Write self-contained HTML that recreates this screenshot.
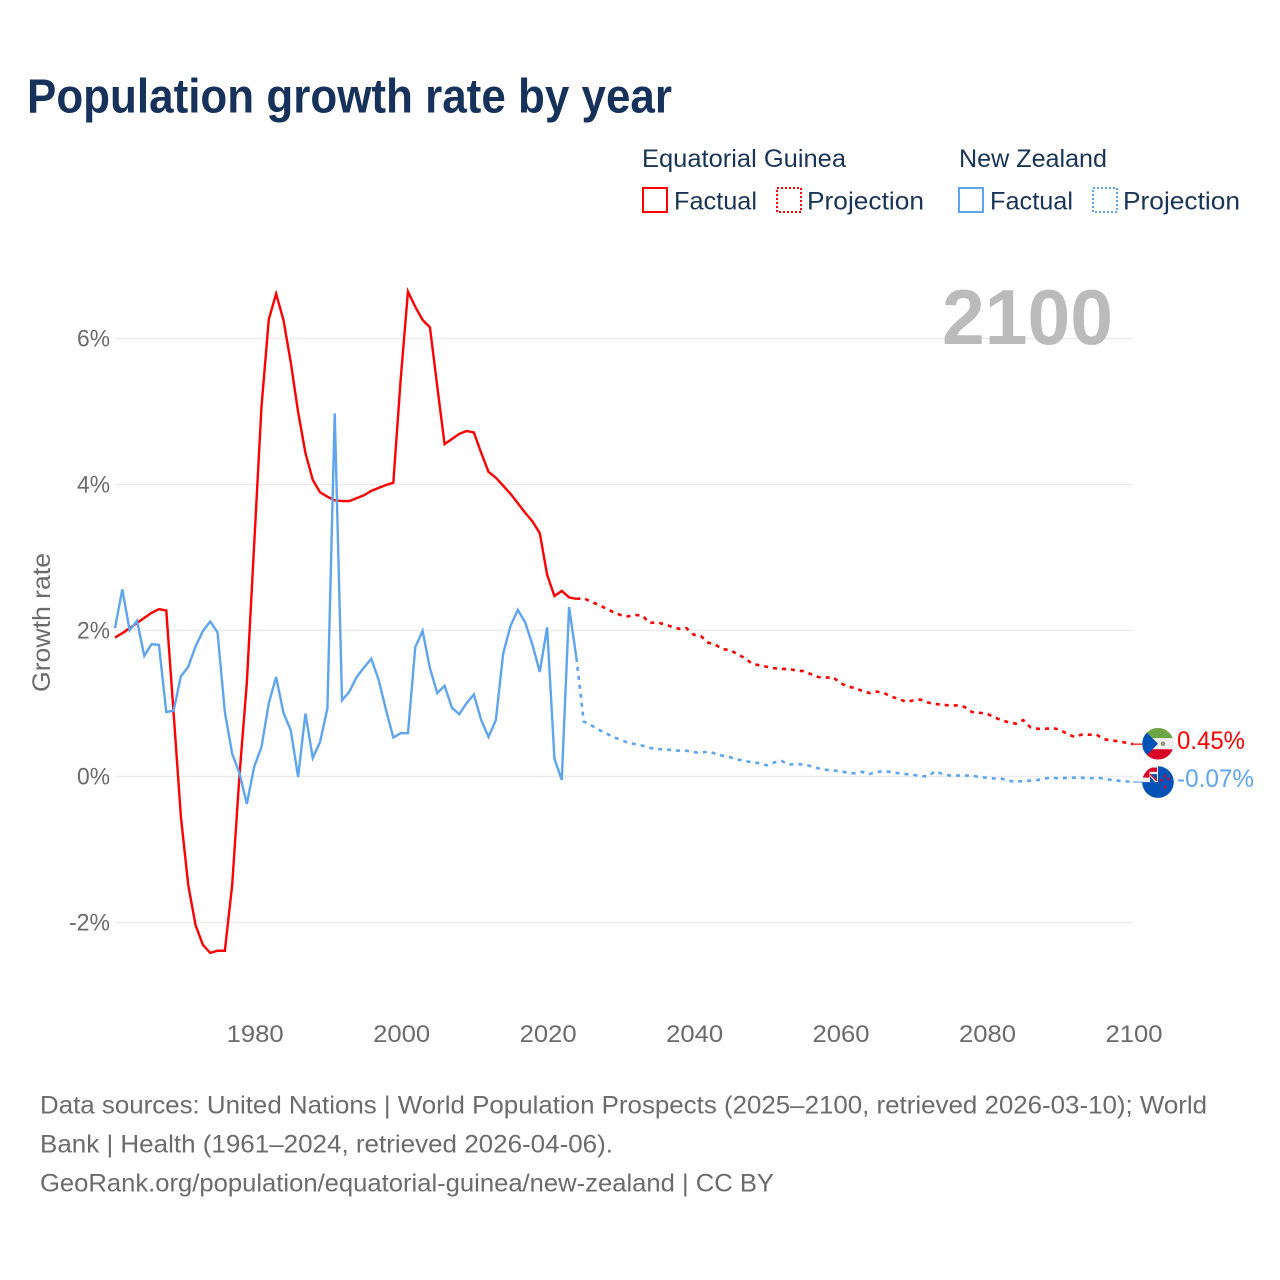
<!DOCTYPE html>
<html lang="en">
<head>
<meta charset="utf-8">
<title>Population growth rate by year</title>
<style>
html,body{margin:0;padding:0;background:#fff;width:1280px;height:1280px;overflow:hidden}
svg{display:block}
text{font-family:"Liberation Sans",sans-serif}
</style>
</head>
<body>
<svg id="chart" xmlns="http://www.w3.org/2000/svg" width="1280" height="1280" viewBox="0 0 1280 1280">
  <rect width="1280" height="1280" fill="#fff"/>
  <text x="27" y="112.5" font-size="48" font-weight="700" fill="#17325a" textLength="645" lengthAdjust="spacingAndGlyphs">Population growth rate by year</text>

  <g font-size="25" fill="#1a3456">
    <text x="642" y="167" textLength="204" lengthAdjust="spacingAndGlyphs">Equatorial Guinea</text>
    <text x="959" y="167" textLength="148" lengthAdjust="spacingAndGlyphs">New Zealand</text>
    <g>
      <rect x="643" y="188" width="24" height="24" fill="none" stroke="#ff0000" stroke-width="2"/>
      <text x="674" y="209.5" textLength="83" lengthAdjust="spacingAndGlyphs">Factual</text>
    </g>
    <g>
      <rect x="777" y="188" width="24" height="24" fill="none" stroke="#ff0000" stroke-width="2" stroke-dasharray="2 2" shape-rendering="crispEdges"/>
      <text x="807" y="209.5" textLength="117" lengthAdjust="spacingAndGlyphs">Projection</text>
    </g>
    <g>
      <rect x="959" y="188" width="24" height="24" fill="none" stroke="#5fa5ee" stroke-width="2"/>
      <text x="990" y="209.5" textLength="83" lengthAdjust="spacingAndGlyphs">Factual</text>
    </g>
    <g>
      <rect x="1093" y="188" width="24" height="24" fill="none" stroke="#5fa5ee" stroke-width="2" stroke-dasharray="2 2" shape-rendering="crispEdges"/>
      <text x="1123" y="209.5" textLength="117" lengthAdjust="spacingAndGlyphs">Projection</text>
    </g>
  </g>

  <text transform="translate(50 692) rotate(-90)" font-size="25" fill="#6b6b6b" textLength="139" lengthAdjust="spacingAndGlyphs">Growth rate</text>

  <g id="grid"></g>
  <text x="942" y="344" font-size="78" font-weight="700" fill="#bbbbbb" textLength="171" lengthAdjust="spacingAndGlyphs">2100</text>
  <g id="yticks" font-size="24" fill="#6b6b6b"></g>
  <g id="xticks" font-size="24" fill="#6b6b6b"></g>
  <g id="series"></g>

  <defs>
    <clipPath id="flagClip"><circle cx="0" cy="0" r="15.8"/></clipPath>
  </defs>

  <g id="flagEG" clip-path="url(#flagClip)">
    <rect x="-16" y="-16" width="32" height="10.5" fill="#6da544"/>
    <rect x="-16" y="-5.5" width="32" height="11" fill="#f0f0f0"/>
    <rect x="-16" y="5.5" width="32" height="10.5" fill="#d80027"/>
    <polygon points="0,0 -16,-16 -16,16" fill="#0052b4"/>
    <circle cx="5" cy="0" r="2.3" fill="#8a9a7a"/>
  </g>

  <g id="flagNZ" clip-path="url(#flagClip)">
    <rect x="-16" y="-16" width="32" height="32" fill="#0052b4"/>
    <rect x="-16" y="-16" width="16" height="16" fill="#f0f0f0"/>
    <rect x="-12.5" y="-14.5" width="11.5" height="4.2" fill="#d80027"/>
    <rect x="-16" y="-14.5" width="7.5" height="10" fill="#d80027"/>
    <polygon points="-7,-8 -1,-8 -1,-2" fill="#0052b4"/>
    <polygon points="-8,-6 -8,0 -3,0" fill="#0052b4"/>
    <line x1="-8" y1="-8" x2="-1" y2="-1" stroke="#d80027" stroke-width="1.2"/>
    <circle cx="7" cy="-6" r="1.3" fill="#d80027"/>
    <circle cx="3.5" cy="-2" r="1.3" fill="#d80027"/>
    <circle cx="10.5" cy="-3" r="1.3" fill="#d80027"/>
    <circle cx="7" cy="5" r="1.3" fill="#d80027"/>
  </g>

  <text id="labelEG" x="1177" font-size="25" fill="#ff0000" textLength="68" lengthAdjust="spacingAndGlyphs"></text>
  <text id="labelNZ" x="1177" font-size="25" fill="#5fa5ee" textLength="77" lengthAdjust="spacingAndGlyphs"></text>

  <g font-size="25" fill="#6b6b6b">
    <text x="40" y="1113.5" textLength="1167" lengthAdjust="spacingAndGlyphs">Data sources: United Nations | World Population Prospects (2025–2100, retrieved 2026-03-10); World</text>
    <text x="40" y="1152.5" textLength="573" lengthAdjust="spacingAndGlyphs">Bank | Health (1961–2024, retrieved 2026-04-06).</text>
    <text x="40" y="1191.5" textLength="734" lengthAdjust="spacingAndGlyphs">GeoRank.org/population/equatorial-guinea/new-zealand | CC BY</text>
  </g>
</svg>

<script>
var factualStartYear = 1961;
var projectionStartYear = 2025;

var yTickValues = [6, 4, 2, 0, -2];
var xTickYears = [1980, 2000, 2020, 2040, 2060, 2080, 2100];

var egFactual = [
  1.91,1.97,2.04,2.11,2.18,2.25,2.30,2.28,0.88,-0.55,
  -1.48,-2.03,-2.30,-2.41,-2.38,-2.38,-1.48,0.03,1.29,3.18,
  5.07,6.27,6.62,6.26,5.68,5.00,4.44,4.07,3.90,3.84,
  3.79,3.78,3.78,3.82,3.86,3.92,3.96,4.00,4.03,5.44,
  6.65,6.44,6.26,6.16,5.35,4.56,4.63,4.70,4.74,4.72,
  4.44,4.18,4.10,3.99,3.88,3.75,3.62,3.50,3.34,2.77,
  2.48,2.55,2.46,2.44
];

var egProjection = [
  2.45,2.40,2.36,2.31,2.26,2.22,2.20,2.22,2.21,2.11,2.12,2.09,2.06,2.03,2.04,1.95,
  1.93,1.84,1.81,1.75,1.74,1.68,1.63,1.55,1.53,1.51,
  1.49,1.48,1.48,1.46,1.45,1.41,1.37,1.36,1.37,1.29,
  1.24,1.22,1.18,1.15,1.17,1.15,1.10,1.07,1.03,1.05,
  1.06,1.02,1.00,0.99,0.98,0.98,0.96,0.89,0.88,0.87,
  0.82,0.78,0.75,0.73,0.78,0.68,0.66,0.66,0.67,0.65,
  0.59,0.55,0.58,0.58,0.58,0.52,0.50,0.49,0.47,0.45
];

var nzFactual = [
  2.04,2.57,2.01,2.14,1.66,1.82,1.81,0.89,0.91,1.38,
  1.51,1.79,2.00,2.13,1.98,0.89,0.32,0.05,-0.37,0.14,
  0.41,1.01,1.37,0.88,0.64,0.00,0.87,0.26,0.48,0.94,
  4.98,1.05,1.17,1.37,1.50,1.62,1.33,0.92,0.54,0.60,
  0.60,1.78,2.00,1.49,1.15,1.25,0.95,0.86,1.01,1.13,
  0.78,0.55,0.78,1.69,2.07,2.29,2.12,1.81,1.44,2.05,
  0.25,-0.04,2.33,1.63
];

var nzProjection = [
  0.76,0.71,0.65,0.60,0.55,0.51,0.47,0.45,0.43,0.40,0.38,0.38,0.37,0.36,0.36,0.34,
  0.33,0.35,0.32,0.29,0.27,0.24,0.22,0.20,0.19,0.16,
  0.20,0.22,0.17,0.18,0.17,0.15,0.12,0.10,0.09,0.08,
  0.06,0.05,0.07,0.04,0.07,0.08,0.07,0.05,0.04,0.03,
  0.01,0.01,0.08,0.04,0.02,0.02,0.02,0.02,0.00,-0.01,
  -0.02,-0.02,-0.05,-0.07,-0.05,-0.05,-0.04,-0.02,-0.01,-0.02,
  -0.01,-0.01,-0.01,-0.02,-0.01,-0.02,-0.04,-0.05,-0.06,-0.07
];

var SVGNS = 'http://www.w3.org/2000/svg';
var RED = '#ff0000';
var BLUE = '#5fa5ee';

function xScale(year) { return 115 + (year - 1961) * 7.324; }
function yScale(value) { return 777 - value * 73; }

function pointsFor(values, startYear) {
  return values.map(function (v, i) {
    return xScale(startYear + i).toFixed(2) + ',' + yScale(v).toFixed(2);
  }).join(' ');
}

var gridGroup = document.getElementById('grid');
var yTickGroup = document.getElementById('yticks');
yTickValues.forEach(function (v) {
  var line = document.createElementNS(SVGNS, 'line');
  
  
  line.setAttribute('x1', 115);
  line.setAttribute('x2', 1133);
  line.setAttribute('y1', yScale(v) - 0.5);
  line.setAttribute('y2', yScale(v) - 0.5);
  line.setAttribute('stroke', '#ebebeb');
  line.setAttribute('stroke-width', '1.4');
  gridGroup.appendChild(line);

  var label = document.createElementNS(SVGNS, 'text');
  
  
  label.setAttribute('x', 110);
  label.setAttribute('y', yScale(v) + 7.5);
  label.setAttribute('text-anchor', 'end');
  label.setAttribute('textLength', v < 0 ? 41 : 33);
  label.setAttribute('lengthAdjust', 'spacingAndGlyphs');
  label.textContent = v + '%';
  yTickGroup.appendChild(label);
});

var xTickGroup = document.getElementById('xticks');
xTickYears.forEach(function (year) {
  var label = document.createElementNS(SVGNS, 'text');
  
  
  label.setAttribute('x', xScale(year) + 1);
  label.setAttribute('y', 1042);
  label.setAttribute('text-anchor', 'middle');
  label.setAttribute('textLength', 57);
  label.setAttribute('lengthAdjust', 'spacingAndGlyphs');
  label.textContent = String(year);
  xTickGroup.appendChild(label);
});

var seriesGroup = document.getElementById('series');

function drawLine(name, values, startYear, color, dash) {
  var line = document.createElementNS(SVGNS, 'polyline');
  
  
  line.setAttribute('points', pointsFor(values, startYear));
  line.setAttribute('fill', 'none');
  line.setAttribute('stroke', color);
  line.setAttribute('stroke-width', dash ? '2.6' : '2.4');
  line.setAttribute('stroke-linejoin', 'miter');
  if (dash) { line.setAttribute('stroke-dasharray', dash); }
  seriesGroup.appendChild(line);
}

function drawConnector(name, value, color) {
  var line = document.createElementNS(SVGNS, 'line');
  
  
  line.setAttribute('x1', xScale(2100));
  line.setAttribute('x2', 1144);
  line.setAttribute('y1', yScale(value));
  line.setAttribute('y2', yScale(value));
  line.setAttribute('stroke', color);
  line.setAttribute('stroke-width', '1.2');
  seriesGroup.appendChild(line);
}

drawLine('equatorial-guinea-factual-line', egFactual, factualStartYear, RED, null);
drawLine('equatorial-guinea-projection-line',
  [egFactual[egFactual.length - 1]].concat(egProjection), projectionStartYear - 1, RED, '4 5');
drawLine('new-zealand-factual-line', nzFactual, factualStartYear, BLUE, null);
drawLine('new-zealand-projection-line',
  [nzFactual[nzFactual.length - 1]].concat(nzProjection), projectionStartYear - 1, BLUE, '4 5');

var egLast = egProjection[egProjection.length - 1];
var nzLast = nzProjection[nzProjection.length - 1];
drawConnector('equatorial-guinea-end-connector', egLast, RED);
drawConnector('new-zealand-end-connector', nzLast, BLUE);

document.getElementById('flagEG').setAttribute('transform', 'translate(1158 ' + (yScale(egLast) - 0.4) + ')');
document.getElementById('flagNZ').setAttribute('transform', 'translate(1158 ' + yScale(nzLast) + ')');

var labelEG = document.getElementById('labelEG');
labelEG.setAttribute('y', yScale(egLast) + 5);
labelEG.textContent = egLast.toFixed(2) + '%';
var labelNZ = document.getElementById('labelNZ');
labelNZ.setAttribute('y', yScale(nzLast) + 5);
labelNZ.textContent = nzLast.toFixed(2) + '%';
</script>
</body>
</html>
